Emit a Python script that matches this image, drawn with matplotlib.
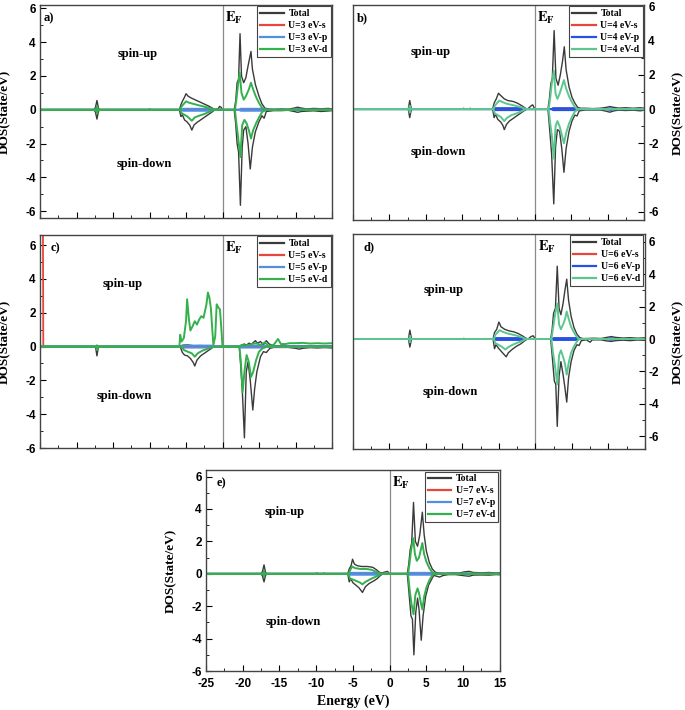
import numpy as np
import matplotlib
matplotlib.use('Agg')
import matplotlib.pyplot as plt
from matplotlib.ticker import MultipleLocator

plt.rcParams['font.family'] = 'Liberation Sans'
plt.rcParams['font.weight'] = 'bold'
plt.rcParams['axes.unicode_minus'] = False
plt.rcParams['mathtext.fontset'] = 'stix'

SERIF = 'Liberation Serif'

# ---- data: (energy eV, DOS) pairs ----
# panel a (U=3)
a_tot_up = [(-25, 0), (-17.6, 0), (-17.4, 0.15), (-17.2, 0.55), (-17.0, 0.1), (-16.8, 0), (-10.2, 0), (-10.0, 0.05), (-9.8, 0),
            (-5.9, 0), (-5.7, 0.3), (-5.5, 0.5), (-5.2, 0.75), (-5.0, 0.95), (-4.7, 0.8), (-4.3, 0.7), (-3.8, 0.6), (-3.3, 0.5),
            (-2.8, 0.4), (-2.3, 0.3), (-1.8, 0.2), (-1.4, 0.1), (-1.1, 0.02), (-0.6, 0.05), (-0.4, 0.2), (-0.2, 0.15), (0.0, 0.0),
            (1.6, 0), (1.8, 0.5), (2.0, 1.6), (2.2, 1.8), (2.4, 4.5), (2.6, 2.0), (2.9, 1.6), (3.2, 1.9), (3.5, 2.6), (3.9, 3.45),
            (4.1, 2.4), (4.5, 1.5), (5.0, 0.8), (5.4, 0.35), (5.8, 0.1), (6.2, 0.05), (7, 0.02), (8, 0.05), (9, 0.03), (9.8, 0.1),
            (10.3, 0.15), (10.8, 0.1), (11.5, 0.05), (12.5, 0.08), (13.5, 0.06), (14.5, 0.08), (15, 0.05)]
a_tot_dn = [(-25, 0), (-17.6, 0), (-17.4, -0.15), (-17.2, -0.55), (-17.0, -0.1), (-16.8, 0), (-5.9, 0), (-5.7, -0.4), (-5.5, -0.3),
            (-5.2, -0.6), (-4.9, -0.7), (-4.5, -0.9), (-4.2, -1.2), (-3.9, -0.9), (-3.5, -0.75), (-3.0, -0.6), (-2.5, -0.45),
            (-2.0, -0.3), (-1.5, -0.15), (-1.1, -0.02), (0, 0), (1.6, 0), (1.8, -0.8), (2.0, -2.0), (2.2, -2.5), (2.45, -5.65),
            (2.7, -2.2), (2.9, -1.2), (3.2, -1.0), (3.5, -2.0), (3.8, -3.5), (4.1, -2.2), (4.5, -1.3), (5.0, -0.7), (5.4, -0.35),
            (5.7, -0.5), (6.0, -0.1), (7, -0.05), (8, -0.05), (9, -0.03), (9.8, -0.1), (10.3, -0.15), (10.8, -0.1), (11.5, -0.08),
            (12.5, -0.06), (13.5, -0.1), (14.5, -0.07), (15, -0.05)]
a_d_up = [(-25, 0), (-17.4, 0), (-17.2, 0.2), (-17.0, 0), (-5.8, 0), (-5.6, 0.2), (-5.3, 0.35), (-5.0, 0.5), (-4.6, 0.42),
          (-4.0, 0.35), (-3.4, 0.28), (-2.8, 0.22), (-2.2, 0.15), (-1.6, 0.08), (-1.2, 0), (1.7, 0), (1.9, 0.6), (2.1, 1.4),
          (2.35, 2.2), (2.6, 1.0), (2.9, 0.6), (3.2, 0.8), (3.6, 1.2), (3.9, 1.6), (4.2, 1.2), (4.6, 0.75), (5.0, 0.4),
          (5.4, 0.12), (5.8, 0.0), (15, 0)]
a_d_dn = [(-25, 0), (-17.4, 0), (-17.2, -0.2), (-17.0, 0), (-5.8, 0), (-5.6, -0.2), (-5.2, -0.3), (-4.8, -0.4), (-4.2, -0.65),
          (-3.8, -0.45), (-3.2, -0.35), (-2.5, -0.25), (-1.8, -0.12), (-1.2, 0), (1.7, 0), (1.9, -0.8), (2.1, -1.5),
          (2.45, -2.8), (2.7, -0.9), (3.0, -0.6), (3.3, -0.8), (3.6, -1.2), (3.9, -1.7), (4.2, -1.2), (4.6, -0.8),
          (5.0, -0.45), (5.4, -0.15), (5.8, 0), (15, 0)]

# panel b (U=4)
b_tot_up = [(-25, 0), (-17.4, 0), (-17.2, 0.5), (-17.0, 0.05), (-16.8, 0), (-10.0, 0), (-9.8, 0.05), (-9.6, 0), (-9.1, 0),
            (-8.9, 0.05), (-8.7, 0), (-5.8, 0), (-5.6, 0.35), (-5.3, 0.6), (-5.0, 0.93), (-4.7, 0.8), (-4.2, 0.6), (-3.7, 0.5),
            (-3.0, 0.45), (-2.4, 0.35), (-1.8, 0.2), (-1.3, 0.05), (-1.0, 0.0), (-0.5, 0.2), (-0.3, 0.25), (0.0, 0.0),
            (1.8, 0), (2.0, 0.6), (2.2, 1.5), (2.4, 1.8), (2.65, 4.6), (2.9, 1.8), (3.2, 1.4), (3.5, 2.0), (3.8, 2.8),
            (4.05, 3.65), (4.3, 2.3), (4.7, 1.3), (5.1, 0.7), (5.5, 0.35), (5.9, 0.1), (6.3, 0.05), (7, 0.05), (8, 0.03),
            (9, 0.05), (9.8, 0.1), (10.3, 0.15), (10.9, 0.1), (11.5, 0.06), (12.5, 0.08), (13.5, 0.05), (14.5, 0.08), (15, 0.05)]
b_tot_dn = [(-25, 0), (-17.4, 0), (-17.2, -0.5), (-17.0, -0.05), (-16.8, 0), (-5.8, 0), (-5.6, -0.5), (-5.4, -0.3),
            (-5.1, -0.6), (-4.7, -0.75), (-4.4, -0.95), (-4.2, -1.2), (-3.9, -0.9), (-3.5, -0.7), (-3.0, -0.55), (-2.5, -0.4),
            (-2.0, -0.25), (-1.5, -0.1), (-1.1, 0), (1.8, 0), (2.0, -1.0), (2.3, -2.6), (2.6, -5.55), (2.85, -2.2),
            (3.1, -1.2), (3.4, -1.3), (3.7, -2.3), (4.0, -3.7), (4.3, -2.3), (4.7, -1.3), (5.1, -0.7), (5.5, -0.35),
            (5.8, -0.4), (6.1, -0.1), (7, -0.05), (8, -0.05), (9, -0.05), (9.8, -0.12), (10.3, -0.18), (10.9, -0.1),
            (11.5, -0.06), (12.5, -0.08), (13.5, -0.06), (14.5, -0.1), (15, -0.06)]
b_d_up = [(-25, 0), (-17.3, 0), (-17.2, 0.2), (-17.1, 0), (-5.7, 0), (-5.5, 0.2), (-5.2, 0.35), (-4.9, 0.5), (-4.5, 0.42),
          (-3.9, 0.32), (-3.2, 0.25), (-2.5, 0.18), (-1.8, 0.1), (-1.3, 0), (1.9, 0), (2.1, 0.6), (2.3, 1.4), (2.6, 2.25),
          (2.85, 0.9), (3.1, 0.6), (3.4, 0.9), (3.7, 1.3), (4.0, 1.7), (4.3, 1.2), (4.7, 0.75), (5.1, 0.4), (5.5, 0.12),
          (5.9, 0), (15, 0)]
b_d_dn = [(-25, 0), (-17.3, 0), (-17.2, -0.2), (-17.1, 0), (-5.7, 0), (-5.5, -0.25), (-5.1, -0.35), (-4.7, -0.45),
          (-4.2, -0.7), (-3.8, -0.5), (-3.2, -0.35), (-2.5, -0.25), (-1.8, -0.12), (-1.3, 0), (1.9, 0), (2.1, -0.8),
          (2.35, -1.6), (2.6, -2.9), (2.85, -1.0), (3.1, -0.7), (3.4, -1.0), (3.7, -1.5), (4.0, -2.0), (4.3, -1.4),
          (4.7, -0.85), (5.1, -0.45), (5.5, -0.15), (5.9, 0), (15, 0)]

# panel c (U=5)
c_tot_up = [(-25, 0), (-17.4, 0), (-17.2, 0.08), (-17.0, 0), (-5.8, 0), (-5.5, 0.08), (-4.8, 0.1), (-4.0, 0.05), (-3.0, 0.06),
            (-2.0, 0.04), (-1.2, 0), (2.4, 0), (2.6, 0.1), (3.0, 0.15), (3.3, 0.08), (3.6, 0.2), (4.0, 0.15), (4.5, 0.35),
            (4.8, 0.2), (5.2, 0.3), (5.6, 0.1), (6.0, 0.35), (6.4, 0.15), (7, 0.05), (8, 0.05), (9, 0.03), (10, 0.05),
            (11, 0.04), (12, 0.03), (13, 0.04), (14, 0.03), (15, 0.03)]
c_tot_dn = [(-25, 0), (-17.4, 0), (-17.2, -0.55), (-17.0, 0), (-5.8, 0), (-5.5, -0.35), (-5.2, -0.5), (-4.8, -0.55),
            (-4.4, -0.7), (-4.0, -0.95), (-3.8, -1.15), (-3.5, -0.8), (-3.0, -0.55), (-2.5, -0.4), (-2.0, -0.25),
            (-1.5, -0.1), (-1.2, 0), (2.3, 0), (2.5, -1.2), (2.7, -2.5), (3.0, -5.4), (3.25, -1.5), (3.5, -0.9), (3.8, -2.0),
            (4.15, -3.75), (4.4, -2.5), (4.7, -1.5), (5.2, -0.6), (5.6, -0.3), (6.0, -0.35), (6.5, -0.1), (7, -0.05),
            (8, -0.05), (9, -0.05), (10, -0.1), (10.5, -0.15), (11, -0.1), (12, -0.06), (13, -0.08), (14, -0.06), (15, -0.08)]
c_d_up = [(-25, 0), (-5.9, 0), (-5.8, 0.7), (-5.6, 0.3), (-5.3, 0.5), (-5.0, 1.5), (-4.85, 2.8), (-4.6, 1.6), (-4.4, 0.95),
          (-4.1, 1.2), (-3.8, 1.5), (-3.5, 1.3), (-3.2, 1.6), (-2.9, 1.8), (-2.6, 1.7), (-2.4, 2.1), (-2.2, 2.5),
          (-2.0, 3.2), (-1.8, 2.9), (-1.6, 2.3), (-1.4, 1.0), (-1.25, 0.1), (-1.0, 0.6), (-0.8, 2.5), (-0.55, 2.3),
          (-0.35, 2.2), (-0.15, 1.0), (0.0, 0.0), (2.5, 0), (2.7, 0.1), (3.2, 0.05), (4.0, 0.15), (4.6, 0.2), (5.2, 0.1),
          (5.8, 0.25), (6.3, 0.05), (7.0, 0.1), (7.6, 0.45), (8.0, 0.15), (8.6, 0.15), (9.2, 0.2), (10, 0.2), (11, 0.22),
          (12, 0.18), (13, 0.2), (14, 0.18), (15, 0.2)]
c_d_dn = [(-25, 0), (-17.3, 0), (-17.2, -0.2), (-17.1, 0), (-5.6, 0), (-5.3, -0.2), (-4.8, -0.3), (-4.2, -0.4), (-3.8, -0.6),
          (-3.4, -0.4), (-2.8, -0.25), (-2.0, -0.12), (-1.3, 0), (2.3, 0), (2.5, -0.8), (2.75, -2.7), (3.0, -1.5),
          (3.3, -0.5), (3.6, -0.9), (3.9, -1.8), (4.2, -1.5), (4.6, -0.8), (5.0, -0.3), (5.5, -0.1), (6.0, 0), (15, 0)]
c_s_up = [(-25, 7.5), (-24.6, 7.5), (-24.55, 0), (-17.3, 0), (-17.2, 0.06), (-17.1, 0), (15, 0)]

# panel d (U=6)
d_tot_up = [(-25, 0), (-17.4, 0), (-17.2, 0.55), (-17.0, 0.05), (-16.8, 0), (-10.0, 0), (-9.8, 0.04), (-9.6, 0), (-5.8, 0),
            (-5.6, 0.4), (-5.3, 0.6), (-5.0, 1.05), (-4.7, 0.75), (-4.2, 0.6), (-3.6, 0.5), (-3.0, 0.45), (-2.4, 0.35),
            (-1.8, 0.2), (-1.3, 0.05), (-1.0, 0), (-0.6, 0.15), (-0.3, 0.2), (0, 0), (2.1, 0), (2.3, 0.6), (2.5, 1.6),
            (2.75, 1.9), (3.0, 4.5), (3.25, 1.9), (3.5, 1.5), (3.8, 2.2), (4.05, 3.0), (4.3, 3.7), (4.55, 2.4), (4.9, 1.4),
            (5.3, 0.7), (5.7, 0.3), (6.1, 0.08), (6.5, 0.03), (7, 0.03), (8, 0.05), (9, 0.03), (9.8, 0.1), (10.4, 0.15),
            (11, 0.1), (12, 0.06), (13, 0.08), (14, 0.05), (15, 0.07)]
d_tot_dn = [(-25, 0), (-17.4, 0), (-17.2, -0.5), (-17.0, -0.05), (-16.8, 0), (-5.8, 0), (-5.6, -0.6), (-5.4, -0.35),
            (-5.0, -0.6), (-4.6, -0.8), (-4.3, -0.95), (-4.0, -1.1), (-3.7, -0.85), (-3.2, -0.65), (-2.6, -0.45),
            (-2.0, -0.3), (-1.5, -0.12), (-1.1, 0), (2.1, 0), (2.3, -1.0), (2.6, -2.6), (2.8, -2.8), (3.0, -5.4),
            (3.25, -2.3), (3.5, -1.4), (3.8, -2.2), (4.05, -3.0), (4.3, -3.9), (4.55, -2.4), (4.9, -1.4), (5.3, -0.7),
            (5.7, -0.35), (6.0, -0.4), (6.3, -0.1), (7, -0.05), (7.5, -0.2), (7.8, -0.05), (9, -0.05), (9.8, -0.12),
            (10.4, -0.15), (11, -0.1), (12, -0.07), (13, -0.1), (14, -0.06), (15, -0.08)]
d_d_up = [(-25, 0), (-17.3, 0), (-17.2, 0.2), (-17.1, 0), (-5.7, 0), (-5.5, 0.25), (-5.2, 0.4), (-4.9, 0.55), (-4.5, 0.45),
          (-3.9, 0.35), (-3.2, 0.28), (-2.5, 0.2), (-1.8, 0.1), (-1.3, 0), (2.2, 0), (2.4, 0.6), (2.7, 1.5), (3.0, 2.2),
          (3.25, 0.9), (3.5, 0.6), (3.8, 0.9), (4.05, 1.2), (4.3, 1.7), (4.6, 1.2), (4.9, 0.75), (5.3, 0.4), (5.7, 0.12),
          (6.0, 0), (15, 0)]
d_d_dn = [(-25, 0), (-17.3, 0), (-17.2, -0.2), (-17.1, 0), (-5.7, 0), (-5.5, -0.25), (-5.1, -0.35), (-4.7, -0.45),
          (-4.1, -0.65), (-3.7, -0.5), (-3.1, -0.35), (-2.4, -0.22), (-1.7, -0.1), (-1.3, 0), (2.2, 0), (2.4, -0.8),
          (2.7, -1.7), (3.0, -2.8), (3.25, -1.0), (3.5, -0.7), (3.8, -1.1), (4.05, -1.5), (4.3, -2.2), (4.6, -1.4),
          (4.9, -0.85), (5.3, -0.45), (5.7, -0.15), (6.0, 0), (15, 0)]

# panel e (U=7)
e_tot_up = [(-25, 0), (-17.5, 0), (-17.3, 0.15), (-17.1, 0.55), (-16.9, 0.1), (-16.7, 0), (-10.1, 0), (-9.9, 0.05), (-9.7, 0),
            (-9.1, 0), (-8.9, 0.04), (-8.7, 0), (-5.7, 0), (-5.5, 0.3), (-5.25, 0.5), (-5.05, 0.9), (-4.8, 0.6), (-4.4, 0.5),
            (-3.8, 0.45), (-3.0, 0.45), (-2.3, 0.4), (-1.8, 0.25), (-1.4, 0.1), (-1.1, 0.05), (-0.7, 0.1), (-0.3, 0.15),
            (0, 0), (2.4, 0), (2.6, 0.6), (2.8, 1.5), (3.0, 1.9), (3.25, 4.4), (3.5, 2.0), (3.8, 1.7), (4.1, 2.4),
            (4.45, 3.8), (4.7, 2.4), (5.0, 1.4), (5.4, 0.7), (5.8, 0.3), (6.2, 0.1), (6.6, 0.05), (7.5, 0.03), (8.5, 0.05),
            (9.5, 0.05), (10.2, 0.12), (10.8, 0.15), (11.4, 0.08), (12.5, 0.06), (13.5, 0.08), (14.5, 0.05), (15, 0.06)]
e_tot_dn = [(-25, 0), (-17.5, 0), (-17.3, -0.15), (-17.1, -0.5), (-16.9, -0.1), (-16.7, 0), (-5.7, 0), (-5.5, -0.5),
            (-5.3, -0.3), (-5.0, -0.55), (-4.6, -0.7), (-4.2, -0.85), (-3.7, -1.15), (-3.3, -0.8), (-2.8, -0.6),
            (-2.2, -0.45), (-1.7, -0.3), (-1.3, -0.12), (-0.9, 0), (2.4, 0), (2.6, -1.0), (2.9, -2.6), (3.1, -2.8),
            (3.3, -5.0), (3.55, -2.4), (3.8, -1.5), (4.0, -2.2), (4.3, -4.1), (4.55, -2.6), (4.9, -1.4), (5.3, -0.7),
            (5.7, -0.35), (6.0, -0.1), (6.8, -0.2), (7.3, -0.1), (8, -0.05), (9, -0.05), (10.2, -0.12), (10.8, -0.15),
            (11.4, -0.08), (12.5, -0.07), (13.5, -0.08), (14.5, -0.05), (15, -0.06)]
e_d_up = [(-25, 0), (-17.2, 0), (-17.1, 0.2), (-17.0, 0), (-5.6, 0), (-5.4, 0.2), (-5.1, 0.45), (-4.7, 0.35), (-4.0, 0.3),
          (-3.2, 0.3), (-2.5, 0.25), (-1.8, 0.12), (-1.3, 0), (2.5, 0), (2.7, 0.6), (2.9, 1.4), (3.2, 2.2), (3.45, 1.2),
          (3.7, 0.8), (4.0, 1.0), (4.2, 1.4), (4.45, 1.9), (4.7, 1.2), (5.0, 0.75), (5.4, 0.35), (5.8, 0.1), (6.1, 0), (15, 0)]
e_d_dn = [(-25, 0), (-17.2, 0), (-17.1, -0.2), (-17.0, 0), (-5.6, 0), (-5.4, -0.3), (-5.0, -0.35), (-4.5, -0.45),
          (-4.0, -0.55), (-3.7, -0.65), (-3.3, -0.5), (-2.7, -0.35), (-2.0, -0.2), (-1.4, -0.08), (-1.0, 0), (2.5, 0),
          (2.7, -0.9), (2.95, -1.8), (3.25, -2.5), (3.5, -1.3), (3.8, -0.9), (4.0, -1.2), (4.25, -1.8), (4.45, -2.2),
          (4.7, -1.4), (5.0, -0.85), (5.4, -0.4), (5.8, -0.1), (6.1, 0), (15, 0)]

# s and p channels stay close to zero
s_up = [(-25, 0), (-17.3, 0), (-17.2, 0.06), (-17.1, 0), (15, 0)]
s_dn = [(-25, 0), (-17.3, 0), (-17.2, -0.06), (-17.1, 0), (15, 0)]
p_up = [(-25, 0), (-5.6, 0), (-5.4, 0.06), (-1.5, 0.06), (-1.2, 0), (2.3, 0), (2.5, 0.06), (5.8, 0.06), (6.0, 0),
        (9.8, 0), (10.4, 0.05), (11, 0), (15, 0)]
p_dn = [(-25, 0), (-5.6, 0), (-5.4, -0.06), (-1.5, -0.06), (-1.2, 0), (2.3, 0), (2.5, -0.06), (5.8, -0.06), (6.0, 0),
        (9.8, 0), (10.4, -0.05), (11, 0), (15, 0)]

U_values = [3, 4, 5, 6, 7]
tags = ['a)', 'b)', 'c)', 'd)', 'e)']

TOT = '#3a3a3a'
RED = '#e5463d'


def pts(pairs):
    arr = np.array(pairs, dtype=float)
    return arr[:, 0], arr[:, 1]


fig = plt.figure(figsize=(6.85, 7.10), dpi=100)


def panel(rect, tag, u, tot_up, tot_dn, su, sd, d_up, d_dn, ylim, spin_up, spin_dn,
          green, blue, right=False, xlabels=False):
    ax = fig.add_axes(rect)
    ax.axvline(0, color='#8a8a8a', lw=0.9, zorder=1)
    ax.plot(*pts(tot_up), color=TOT, lw=1.0, label='Total')
    ax.plot(*pts(tot_dn), color=TOT, lw=1.0)
    ax.plot(*pts(su), color=RED, lw=1.3, label=f'U={u} eV-s')
    ax.plot(*pts(sd), color=RED, lw=1.3)
    ax.plot(*pts(p_up), color=blue, lw=1.4, label=f'U={u} eV-p')
    ax.plot(*pts(p_dn), color=blue, lw=1.4)
    ax.plot(*pts(d_up), color=green, lw=1.4, label=f'U={u} eV-d')
    ax.plot(*pts(d_dn), color=green, lw=1.4)

    ax.set_xlim(-25, 15)
    ax.set_ylim(*ylim)
    ax.xaxis.set_major_locator(MultipleLocator(5))
    ax.xaxis.set_minor_locator(MultipleLocator(2.5))
    ax.yaxis.set_major_locator(MultipleLocator(2))
    ax.yaxis.set_minor_locator(MultipleLocator(1))
    ax.tick_params(which='both', direction='in', labelsize=8.5, top=False, pad=3)
    ax.tick_params(axis='x', pad=5)
    ax.tick_params(which='major', length=4)
    ax.tick_params(which='minor', length=2.5)
    if not xlabels:
        ax.tick_params(labelbottom=False)
    for sp in ax.spines.values():
        sp.set_color('#444444')
        sp.set_linewidth(1.0)

    ax.set_ylabel('DOS(State/eV)', fontfamily=SERIF, fontsize=9.5, fontweight='bold')
    if right:
        ax.yaxis.tick_right()
        ax.yaxis.set_label_position('right')
        ax.tick_params(which='both', left=False, right=True)
        ax.yaxis.set_label_coords(1.095, 0.5)
    else:
        ax.tick_params(which='both', right=False)
        ax.yaxis.set_label_coords(-0.1, 0.5)

    ax.text(0.012 if tag in ('a)', 'b)') else 0.035, 0.965, tag, transform=ax.transAxes,
            fontfamily=SERIF, fontsize=9, fontweight='bold', va='top')
    ax.text(0.3, 0.975, r'$\mathbf{E_F}$', transform=ax.get_xaxis_transform(),
            fontsize=10.5, va='top', ha='left')
    ax.text(spin_up[0], spin_up[1], 'spin-up', fontfamily=SERIF, fontsize=9, fontweight='bold',
            ha='center', va='center')
    ax.text(spin_dn[0], spin_dn[1], 'spin-down', fontfamily=SERIF, fontsize=9, fontweight='bold',
            ha='center', va='center')

    leg = ax.legend(loc='upper right', prop={'family': SERIF, 'weight': 'bold', 'size': 7},
                    handlelength=2.4, labelspacing=0.3, borderpad=0.3, handletextpad=0.5,
                    borderaxespad=0.15, fancybox=False, framealpha=1, edgecolor='#444444')
    leg.get_frame().set_linewidth(0.8)
    for ln in leg.get_lines():
        ln.set_linewidth(1.6)
    return ax


GREEN1 = '#34b04c'
BLUE1 = '#4f8fe4'
GREEN2 = '#5bc78e'
BLUE2 = '#2552e0'

panel([0.0584, 0.693, 0.4263, 0.300], tags[0], U_values[0], a_tot_up, a_tot_dn, s_up, s_dn, a_d_up, a_d_dn,
      (-6.4, 6.2), (-11.6, 3.3), (-10.7, -3.2), GREEN1, BLUE1)
panel([0.5153, 0.690, 0.4248, 0.303], tags[1], U_values[1], b_tot_up, b_tot_dn, s_up, s_dn, b_d_up, b_d_dn,
      (-6.5, 6.1), (-14.3, 3.35), (-13.3, -2.5), GREEN2, BLUE2, right=True)
panel([0.0584, 0.369, 0.4263, 0.300], tags[2], U_values[2], c_tot_up, c_tot_dn, c_s_up, s_dn, c_d_up, c_d_dn,
      (-6.0, 6.6), (-13.7, 3.7), (-13.4, -2.95), GREEN1, BLUE1)
panel([0.5153, 0.3676, 0.426, 0.303], tags[3], U_values[3], d_tot_up, d_tot_dn, s_up, s_dn, d_d_up, d_d_dn,
      (-6.8, 6.5), (-12.6, 3.0), (-11.6, -3.25), GREEN2, BLUE2, right=True)
ax_e = panel([0.3007, 0.0549, 0.429, 0.283], tags[4], U_values[4], e_tot_up, e_tot_dn, s_up, s_dn, e_d_up, e_d_dn,
             (-6.0, 6.4), (-14.25, 3.8), (-13.1, -2.95), GREEN1, BLUE1, xlabels=True)
ax_e.set_xlabel('Energy (eV)', fontfamily=SERIF, fontsize=10, fontweight='bold', labelpad=3)

fig.savefig('out.png', dpi=100)
